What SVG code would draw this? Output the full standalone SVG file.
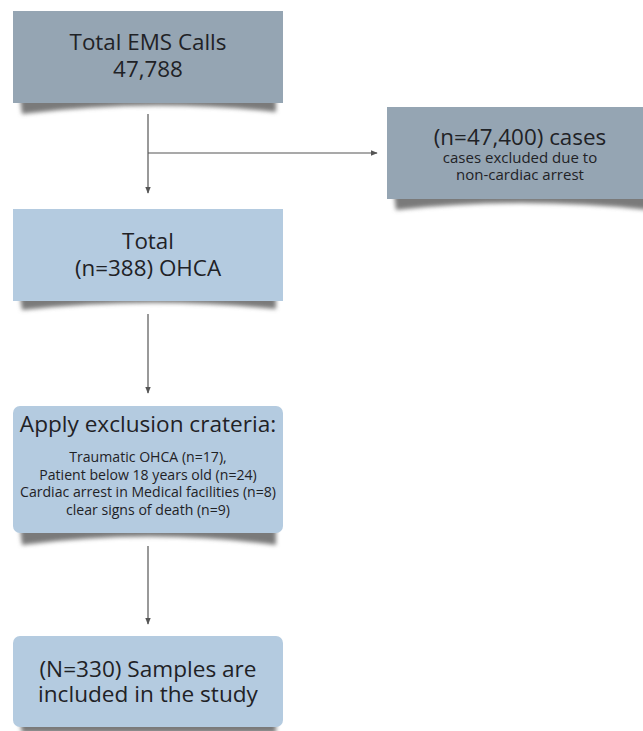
<svg xmlns="http://www.w3.org/2000/svg" width="643" height="731" viewBox="0 0 643 731">
  <style>
    text { font-family: "Open Sans", "Noto Sans", "Liberation Sans", sans-serif; fill: #1f2226; text-anchor: middle; }
    .big { font-size: 22.4px; }
    .title { font-size: 22.6px; }
    .small { font-size: 15px; }
    .mid { font-size: 14.1px; }
    .grey { fill: #95a5b3; }
    .blue { fill: #b4cbe0; }
    .shadow { fill: #7a7a7a; filter: url(#soft); }
    .conn { stroke: #555; stroke-width: 1.2; fill: none; marker-end: url(#arrow); }
  </style>
  <defs>
    <filter id="soft" x="-10%" y="-50%" width="120%" height="200%">
      <feGaussianBlur stdDeviation="2"/>
    </filter>
    <marker id="arrow" viewBox="0 0 10 10" refX="9" refY="5" markerWidth="6" markerHeight="6" orient="auto">
      <path d="M0,1 L10,5 L0,9 z" fill="#555"/>
    </marker>
  </defs>

  <!-- Total EMS calls -->
  <g id="ems-calls">
    <path class="shadow" d="M20,98 L276,98 L276,112 Q150,98 22,114 z"/>
    <rect class="grey" x="13" y="11" width="270" height="92"/>
    <text class="big" x="148" y="50">Total EMS Calls</text>
    <text class="big" x="148" y="77">47,788</text>
  </g>

  <!-- Excluded, non-cardiac -->
  <g id="non-cardiac">
    <path class="shadow" d="M394,194 L650,194 L650,210 Q520,196 396,210 z"/>
    <rect class="grey" x="387" y="107" width="266" height="92"/>
    <text class="big" x="520" y="145">(n=47,400) cases</text>
    <text class="small" x="520" y="163">cases excluded due to</text>
    <text class="small" x="520" y="180">non-cardiac arrest</text>
  </g>

  <!-- Total OHCA -->
  <g id="ohca">
    <path class="shadow" d="M20,296 L276,296 L276,309 Q150,296 22,310 z"/>
    <rect class="blue" x="13" y="209" width="270" height="92"/>
    <text class="big" x="148" y="249">Total</text>
    <text class="big" x="148" y="276">(n=388) OHCA</text>
  </g>

  <!-- Exclusion criteria -->
  <g id="exclusion">
    <path class="shadow" d="M20,528 L276,528 L276,545 Q150,528 22,545 z"/>
    <rect class="blue" x="13" y="406" width="270" height="127" rx="7"/>
    <text class="title" x="148" y="432">Apply exclusion crateria:</text>
    <text class="mid" x="148" y="462">Traumatic OHCA (n=17),</text>
    <text class="mid" x="148" y="480">Patient below 18 years old (n=24)</text>
    <text class="mid" x="148" y="497">Cardiac arrest in Medical facilities (n=8)</text>
    <text class="mid" x="148" y="515">clear signs of death (n=9)</text>
  </g>

  <!-- Included samples -->
  <g id="included">
    <path class="shadow" d="M20,722 L276,722 L276,733 L22,733 z"/>
    <rect class="blue" x="13" y="636" width="270" height="91" rx="7"/>
    <text class="title" x="148" y="677">(N=330) Samples are</text>
    <text class="title" x="148" y="702">included in the study</text>
  </g>

  <!-- Connectors -->
  <g id="connectors">
    <path class="conn" d="M148,114 L148,193"/>
    <path class="conn" d="M148,153 L377,153"/>
    <path class="conn" d="M148,314 L148,393"/>
    <path class="conn" d="M148,546 L148,624"/>
  </g>
</svg>
